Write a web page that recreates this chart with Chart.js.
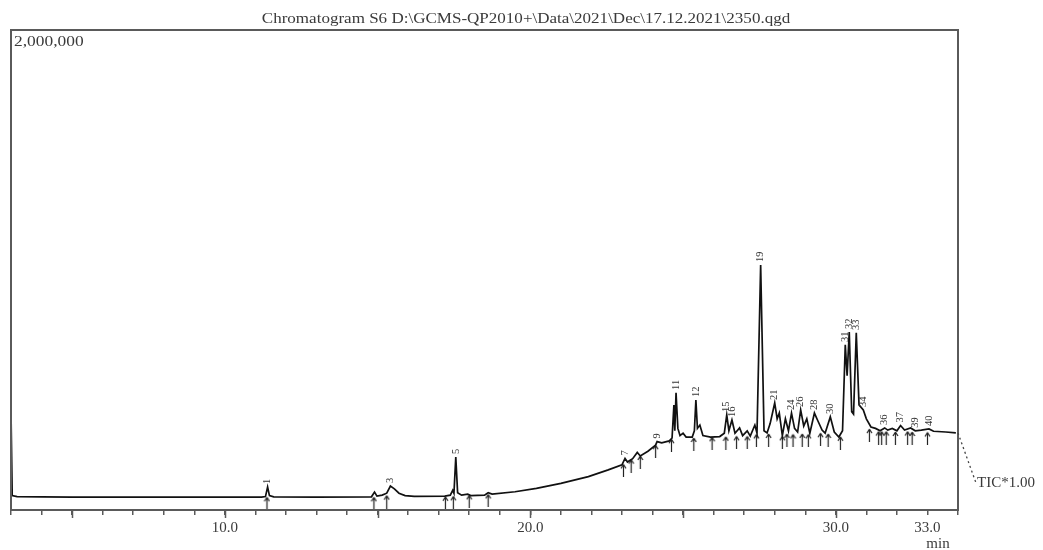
<!DOCTYPE html>
<html>
<head>
<meta charset="utf-8">
<script src="https://cdn.jsdelivr.net/npm/chart.js@4.4.1/dist/chart.umd.min.js"></script>
<style>
html,body{margin:0;padding:0;background:#fff;}
#wrap{width:1043px;height:550px;position:relative;}
</style>
</head>
<body>
<div id="wrap"><canvas id="c" width="1043" height="550"></canvas></div>
<script>
// ---- data ----
const chartTitle = "Chromatogram S6 D:\\GCMS-QP2010+\\Data\\2021\\Dec\\17.12.2021\\2350.qgd";
const yMaxLabel = "2,000,000";
const xTickLabels = [10, 20, 30, 33];
const retentionTimes = [
  3.00, 3.04, 3.2, 4.0, 5.0, 8.0, 11.2, 11.33, 11.40, 11.46, 11.6, 13.0, 14.8, 14.9, 14.98,
  15.15, 15.3, 15.42, 15.55, 15.7, 15.9, 16.2, 17.2, 17.38, 17.46, 17.5, 17.56, 17.62, 17.75,
  17.95, 18.05, 18.5, 18.62, 18.75, 19.5, 20.2, 21.0, 21.9, 22.55, 23.0, 23.1, 23.18, 23.35,
  23.5, 23.6, 23.85, 24.1, 24.15, 24.3, 24.55, 24.64, 24.70, 24.73, 24.77, 24.83, 24.9, 25.0,
  25.1, 25.3, 25.37, 25.42, 25.47, 25.55, 25.65, 25.9, 26.2, 26.35, 26.43, 26.5, 26.6, 26.7,
  26.85, 26.95, 27.1, 27.2, 27.35, 27.42, 27.54, 27.65, 27.75, 27.85, 28.0, 28.08, 28.15,
  28.25, 28.35, 28.45, 28.55, 28.65, 28.75, 28.85, 28.95, 29.05, 29.15, 29.3, 29.4, 29.55,
  29.65, 29.82, 29.95, 30.1, 30.22, 30.31, 30.37, 30.44, 30.52, 30.58, 30.67, 30.76, 30.9,
  31.0, 31.15, 31.3, 31.45, 31.6, 31.7, 31.85, 32.0, 32.12, 32.25, 32.45, 32.6, 32.8, 33.05,
  33.2, 33.6, 33.93
];
const intensities = [
  410000, 60000, 56000, 55000, 54000, 54000, 54000, 56000, 96000, 60000, 55000, 54000, 55000, 75000, 58000,
  62000, 70000, 100000, 88000, 70000, 60000, 57000, 58000, 62000, 82000, 70000, 221000, 72000, 62000,
  66000, 60000, 62000, 72000, 66000, 76000, 90000, 111000, 139000, 167000, 188000, 215000, 200000, 214000,
  240000, 225000, 245000, 270000, 285000, 280000, 288000, 300000, 437000, 330000, 488000, 340000, 310000, 320000,
  304000, 304000, 330000, 458000, 340000, 354000, 310000, 304000, 306000, 320000, 396000, 330000, 375000, 320000,
  342000, 310000, 330000, 308000, 354000, 320000, 1021000, 330000, 321000, 360000, 446000, 380000, 404000,
  310000, 380000, 330000, 404000, 340000, 325000, 417000, 350000, 380000, 320000, 404000, 375000, 333000,
  320000, 388000, 325000, 304000, 330000, 688000, 560000, 742000, 410000, 400000, 738000, 438000, 417000,
  380000, 346000, 340000, 330000, 342000, 333000, 340000, 330000, 352000, 333000, 342000, 330000, 333000, 338000,
  328000, 325000, 321000
];
const peakTimes = [11.4, 15.42, 17.56, 23.1, 24.15, 24.77, 25.42, 26.43, 26.6, 27.54, 28.0, 28.55, 28.85, 29.3, 29.82, 30.31, 30.44, 30.67, 30.9, 31.6, 32.12, 32.6, 33.05];
const peakTops  = [96000, 100000, 221000, 215000, 285000, 488000, 458000, 396000, 375000, 1021000, 446000, 404000, 417000, 404000, 388000, 688000, 742000, 738000, 417000, 342000, 352000, 330000, 338000];
const peakNumbers = ["1", "3", "5", "7", "9", "11", "12", "15", "16", "19", "21", "24", "26", "28", "30", "31", "32", "33", "34", "36", "37", "39", "40"];
const markerTimes = [11.38, 14.88, 15.3, 17.22, 17.48, 18.0, 18.62, 23.05, 23.3, 23.6, 24.1, 24.62, 25.35, 25.95, 26.4, 26.75, 27.1, 27.4, 27.8, 28.25, 28.4, 28.6, 28.9, 29.1, 29.5, 29.75, 30.15, 31.1, 31.4, 31.5, 31.65, 31.95, 32.35, 32.5, 33.0];
const markerValues = [28000, 28000, 35000, 30000, 32000, 36000, 40000, 165000, 185000, 200000, 245000, 270000, 275000, 278000, 280000, 282000, 282000, 290000, 292000, 282000, 292000, 290000, 292000, 290000, 295000, 292000, 280000, 312000, 302000, 302000, 302000, 300000, 302000, 300000, 298000];

// ---- chart ----
const SERIF = "'Liberation Serif', 'DejaVu Serif', serif";
const TXT = '#3a3a3a';
const FRAME = '#5a5a5a';

const arrow = document.createElement('canvas');
arrow.width = 7; arrow.height = 14;
(function(){
  const g = arrow.getContext('2d');
  g.strokeStyle = '#222'; g.lineWidth = 1.2;
  g.beginPath();
  g.moveTo(3.5, 1); g.lineTo(3.5, 14);
  g.moveTo(3.5, 1); g.lineTo(1, 5);
  g.moveTo(3.5, 1); g.lineTo(6, 5);
  g.stroke();
})();

function stretchedText(ctx, text, x, y, sx) {
  ctx.save();
  ctx.translate(x, y);
  ctx.scale(sx, 1);
  ctx.fillText(text, 0, 0);
  ctx.restore();
}

const decor = {
  id: 'decor',
  afterDatasetsDraw(chart) {
    const ctx = chart.ctx, a = chart.chartArea;
    const xs = chart.scales.x, ys = chart.scales.y;
    ctx.save();
    // frame
    ctx.strokeStyle = FRAME; ctx.lineWidth = 2;
    ctx.strokeRect(a.left, a.top, a.right - a.left, a.bottom - a.top);
    // long ticks every 5 min
    ctx.lineWidth = 1.5;
    for (let t = 5; t <= 30; t += 5) {
      const px = Math.round(xs.getPixelForValue(t)) + 0.5;
      ctx.beginPath(); ctx.moveTo(px, a.bottom); ctx.lineTo(px, a.bottom + 8); ctx.stroke();
    }
    // peak numbers
    ctx.fillStyle = '#333';
    ctx.font = "10.5px " + SERIF;
    ctx.textBaseline = 'middle';
    ctx.textAlign = 'left';
    for (let i = 0; i < peakTimes.length; i++) {
      const px = xs.getPixelForValue(peakTimes[i]);
      const py = ys.getPixelForValue(peakTops[i]) - 3;
      ctx.save(); ctx.translate(px, py); ctx.rotate(-Math.PI / 2);
      ctx.fillText(peakNumbers[i], 0, 0);
      ctx.restore();
    }
    // title
    ctx.fillStyle = TXT;
    ctx.font = "15px " + SERIF;
    ctx.textAlign = 'center'; ctx.textBaseline = 'alphabetic';
    stretchedText(ctx, chartTitle, 526, 23, 1.135);
    // y max label
    ctx.textAlign = 'left'; ctx.textBaseline = 'top';
    stretchedText(ctx, yMaxLabel, a.left + 3, a.top + 5, 1.16);
    // min unit
    ctx.textAlign = 'center';
    ctx.fillText('min', 938, 537);
    // TIC dotted connector
    const lastY = ys.getPixelForValue(intensities[intensities.length - 1]);
    ctx.strokeStyle = '#444'; ctx.lineWidth = 1.3; ctx.setLineDash([2, 3]);
    ctx.beginPath(); ctx.moveTo(a.right, lastY); ctx.lineTo(a.right + 18, lastY + 50); ctx.stroke();
    ctx.setLineDash([]);
    ctx.textAlign = 'left'; ctx.textBaseline = 'middle';
    ctx.fillText('TIC*1.00', a.right + 19, lastY + 50);
    ctx.restore();
  }
};

new Chart(document.getElementById('c'), {
  type: 'line',
  data: {
    datasets: [
      {
        label: 'TIC',
        data: retentionTimes.map((t, i) => ({x: t, y: intensities[i]})),
        borderColor: '#111',
        borderWidth: 1.7,
        pointRadius: 0,
        tension: 0,
        fill: false
      },
      {
        type: 'scatter',
        label: 'markers',
        data: markerTimes.map((t, i) => ({x: t, y: markerValues[i]})),
        pointStyle: arrow,
        pointRadius: 5,
        showLine: false
      }
    ]
  },
  options: {
    responsive: false,
    animation: false,
    events: [],
    layout: { padding: { left: 11, right: 85, top: 30, bottom: 0 } },
    plugins: { legend: { display: false }, title: { display: false }, tooltip: { enabled: false } },
    scales: {
      x: {
        type: 'linear',
        min: 3, max: 34,
        afterFit(scale) { scale.height = 40; },
        border: { display: true, color: FRAME, width: 2 },
        grid: { display: true, drawOnChartArea: false, drawTicks: true, tickLength: 5, color: FRAME, lineWidth: 1.5 },
        ticks: {
          stepSize: 1, autoSkip: false, maxRotation: 0, padding: 4,
          color: TXT, font: { family: SERIF, size: 15 },
          callback: (v) => xTickLabels.includes(v) ? v.toFixed(1) : ''
        }
      },
      y: {
        display: false,
        min: 0, max: 2000000
      }
    }
  },
  plugins: [decor]
});
</script>
</body>
</html>
